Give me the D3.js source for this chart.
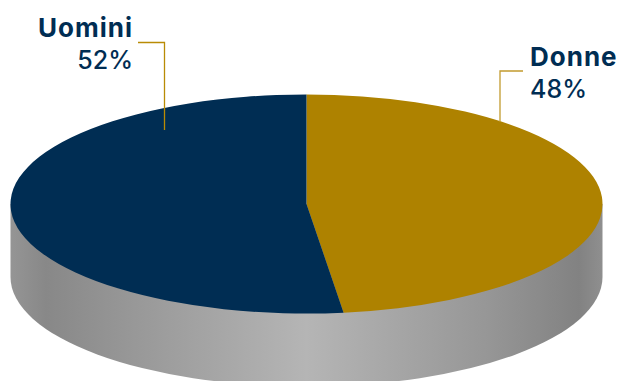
<!DOCTYPE html>
<html>
<head>
<meta charset="utf-8">
<script src="https://cdn.jsdelivr.net/npm/d3@7"></script>
<style>
  html, body { margin: 0; padding: 0; background: #fff; }
  svg { display: block; }
  text { font-family: Inter, "Open Sans", sans-serif; fill: #002D53; }
</style>
</head>
<body>
<svg id="chart" width="619" height="381"></svg>
<script>
const categories = ["Donne", "Uomini"];
const shares = [48, 52];
const sliceColors = ["#AE8200", "#002D53"];
const wallStops = [
  [0, "#959595"], [0.06, "#888888"], [0.2, "#979797"], [0.5, "#b5b5b5"],
  [0.8, "#979797"], [0.96, "#828282"], [1, "#8f8f8f"]
];

const cx = 306.5, cy = 204, rx = 296, ry = 109.5, depth = 73;
const svg = d3.select("#chart");

// Horizontal shading of the disc's outer wall
const grad = svg.append("defs").append("linearGradient")
  .attr("id", "wall").attr("x1", 0).attr("x2", 1).attr("y1", 0).attr("y2", 0);
grad.selectAll("stop").data(wallStops).join("stop")
  .attr("offset", d => d[0]).attr("stop-color", d => d[1]);

// Wall: the front half of the ellipse, extruded downwards
svg.append("path")
  .attr("d", `M${cx - rx},${cy}V${cy + depth}A${rx},${ry} 0 0 0 ${cx + rx},${cy + depth}V${cy}Z`)
  .attr("fill", "url(#wall)");

// Top face: a circular pie squashed into an ellipse
const pie = d3.pie().sort(null).value(d => d)(shares);
const arc = d3.arc().innerRadius(0).outerRadius(rx);
svg.append("g")
  .attr("transform", `translate(${cx},${cy}) scale(1,${ry / rx})`)
  .selectAll("path").data(pie).join("path")
  .attr("d", arc)
  .attr("fill", (d, i) => sliceColors[i]);

// Leader lines from the labels to the slices
const line = d3.line();
const leaders = [
  { pts: [[138, 42.5], [164.5, 42.5], [164.5, 130]], color: "#B98B05" },
  { pts: [[523, 71], [500, 71], [500, 122]], color: "#C29B2E" }
];
svg.selectAll("path.leader").data(leaders).join("path")
  .attr("class", "leader")
  .attr("d", d => line(d.pts))
  .attr("fill", "none")
  .attr("stroke", d => d.color)
  .attr("stroke-width", 1.3);

// Category name and share for each slice
const labels = [
  { i: 1, x: 133, y: 37, anchor: "end" },
  { i: 0, x: 530, y: 66, anchor: "start" }
];
labels.forEach(l => {
  svg.append("text").attr("x", l.x).attr("y", l.y).attr("text-anchor", l.anchor)
    .attr("font-size", 26).attr("font-weight", 700).attr("letter-spacing", 1)
    .text(categories[l.i]);
  svg.append("text").attr("x", l.x).attr("y", l.y + 32).attr("text-anchor", l.anchor)
    .attr("font-size", 25).attr("font-weight", 500).text(shares[l.i] + "%");
});
</script>
</body>
</html>
